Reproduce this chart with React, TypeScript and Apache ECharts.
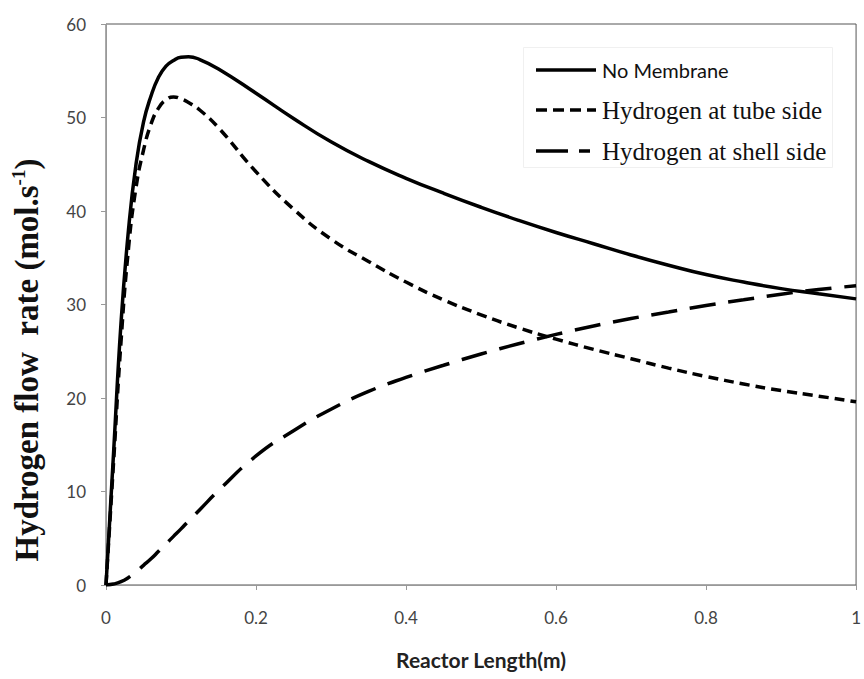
import React, { useEffect, useRef } from "react";
import * as echarts from "echarts";

const xs = [0, 0.01, 0.02, 0.03, 0.04, 0.05, 0.06, 0.07, 0.08, 0.09, 0.1, 0.11, 0.125, 0.15, 0.2, 0.25, 0.3, 0.35, 0.4, 0.45, 0.5, 0.55, 0.6, 0.65, 0.7, 0.75, 0.8, 0.85, 0.9, 0.95, 1.0];
const noMembrane = [0, 14, 28, 38, 45, 49.5, 52.3, 54.3, 55.5, 56.1, 56.45, 56.5, 56.2, 55.2, 52.6, 49.9, 47.4, 45.3, 43.5, 41.9, 40.4, 39.0, 37.7, 36.5, 35.3, 34.2, 33.2, 32.4, 31.7, 31.15, 30.6];
const tubeSide = [0, 13, 26, 36, 42.5, 46.5, 49.3, 51, 51.9, 52.2, 52.0, 51.6, 50.8, 48.9, 44.2, 40.2, 37.0, 34.6, 32.4, 30.5, 28.9, 27.5, 26.3, 25.2, 24.2, 23.2, 22.3, 21.5, 20.8, 20.2, 19.6];
const shellSide = [0, 0.1, 0.35, 0.8, 1.4, 2.1, 2.8, 3.6, 4.4, 5.2, 6.0, 6.85, 8.05, 10.1, 13.8, 16.5, 18.8, 20.7, 22.2, 23.5, 24.7, 25.8, 26.8, 27.7, 28.5, 29.2, 29.9, 30.5, 31.1, 31.6, 32.0];

const seriesNames = ["No Membrane", "Hydrogen at tube side", "Hydrogen at shell side"];
const xTitle = "Reactor Length(m)";
const yTitleMain = "Hydrogen flow  rate (mol.s";
const yTitleSup = "-1";

const pairs = (ys: number[]) => xs.map((x, i) => [x, ys[i]]);

export default function App() {
  const ref = useRef<HTMLDivElement>(null);
  useEffect(() => {
    if (!ref.current) return;
    const chart = echarts.init(ref.current, undefined, { renderer: "svg" });
    const sans = "Lato, 'Open Sans', sans-serif";
    const serif = "'Liberation Serif', 'DejaVu Serif', serif";
    const lineBase = { type: "line", showSymbol: false, symbol: "none", smooth: true };
    const dashes: (number[] | null)[] = [null, [10, 6], [26, 13]];
    const legendDashes: (number[] | null)[] = [null, [11, 6], [32, 11]];
    const legendRows = [70, 110, 151];
    const legendFonts = [
      { fontFamily: sans, fontSize: 20 },
      { fontFamily: serif, fontSize: 25 },
      { fontFamily: serif, fontSize: 25 },
    ];
    const legendGraphics: any[] = [
      {
        type: "rect",
        shape: { x: 523.5, y: 47.5, width: 309, height: 120 },
        style: { fill: "#fff", stroke: "#f0f0f0", lineWidth: 1 },
        z: 10,
      },
    ];
    seriesNames.forEach((name, i) => {
      legendGraphics.push({
        type: "line",
        shape: { x1: 536, y1: legendRows[i], x2: i === 2 ? 590 : 596, y2: legendRows[i] },
        style: { stroke: "#000", lineWidth: 3.5, lineDash: legendDashes[i] || undefined },
        z: 11,
      });
      legendGraphics.push({
        type: "text",
        x: 602,
        y: legendRows[i],
        style: { text: name, ...legendFonts[i], fill: "#111", verticalAlign: "middle", align: "left" },
        z: 11,
      });
    });
    chart.setOption({
      animation: false,
      backgroundColor: "#ffffff",
      grid: { left: 106, right: 3, top: 24, bottom: 94, show: true, borderColor: "#555", borderWidth: 1 },
      xAxis: {
        type: "value",
        min: 0,
        max: 1,
        interval: 0.2,
        name: xTitle,
        nameLocation: "middle",
        nameGap: 64,
        nameTextStyle: { fontFamily: sans, fontSize: 21, fontWeight: "bold", color: "#222" },
        axisLine: { show: true, lineStyle: { color: "#999", width: 1 } },
        axisTick: { show: true, length: 5, lineStyle: { color: "#999" } },
        axisLabel: { margin: 24, fontFamily: sans, fontSize: 17, color: "#444" },
        splitLine: { show: false },
      },
      yAxis: {
        type: "value",
        min: 0,
        max: 60,
        interval: 10,
        axisLine: { show: true, lineStyle: { color: "#999", width: 1 } },
        axisTick: { show: true, length: 5, lineStyle: { color: "#999" } },
        axisLabel: { margin: 20, fontFamily: sans, fontSize: 17, color: "#444" },
        splitLine: { show: false },
      },
      graphic: [
        {
          type: "text",
          x: 27,
          y: 360,
          rotation: Math.PI / 2,
          style: {
            text: "{a|" + yTitleMain + "}{b|" + yTitleSup + "}{a|)}",
            align: "center",
            verticalAlign: "middle",
            rich: {
              a: { fontFamily: serif, fontSize: 33, fontWeight: "bold", fill: "#111", lineHeight: 36 },
              b: { fontFamily: serif, fontSize: 19, fontWeight: "bold", fill: "#111", lineHeight: 36, verticalAlign: "top" },
            },
          },
        },
        ...legendGraphics,
      ],
      series: seriesNames.map((name, i) => ({
        ...lineBase,
        name,
        data: pairs([noMembrane, tubeSide, shellSide][i]),
        lineStyle: { color: "#000", width: 3.5, type: dashes[i] || "solid" },
        itemStyle: { color: "#000" },
      })),
    });
    return () => chart.dispose();
  }, []);
  return <div ref={ref} style={{ position: "absolute", left: 0, top: 0, width: 864, height: 679 }} />;
}
